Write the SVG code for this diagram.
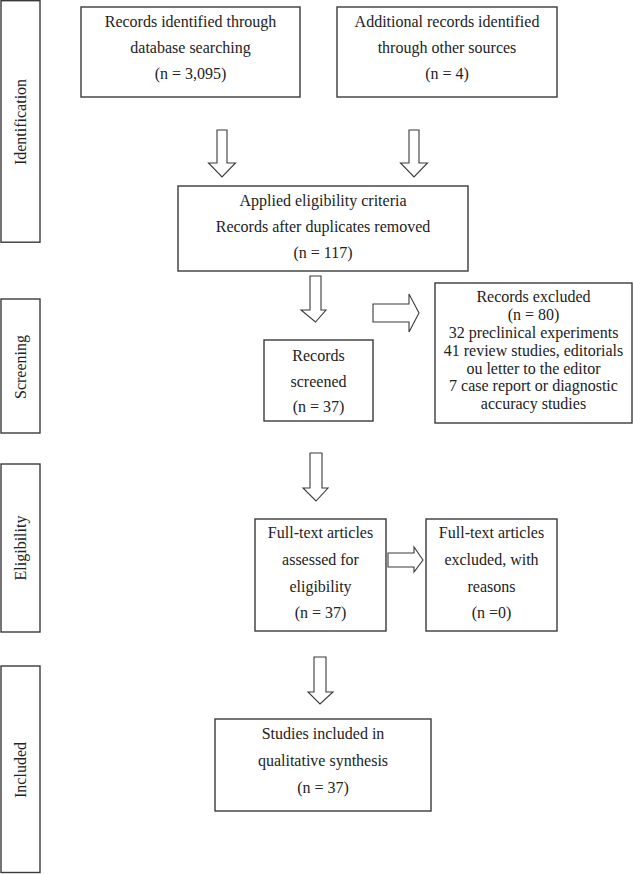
<svg xmlns="http://www.w3.org/2000/svg" width="633" height="874" viewBox="0 0 633 874">
<style>
.box{fill:#fff;stroke:#3a3a3a;stroke-width:1.4}
.arr{fill:#fff;stroke:#3a3a3a;stroke-width:1.1;stroke-linejoin:miter}
text{font-family:"Liberation Serif","Times New Roman",serif;font-size:16px;fill:#222;text-anchor:middle}
.sm{font-size:16px}
</style>
<rect width="633" height="874" fill="#fff"/>
<g id="stage-identification"><rect class="box" x="1" y="0.7" width="39" height="241.5"/><text transform="translate(26,122) rotate(-90)">Identification</text></g>
<g id="stage-screening"><rect class="box" x="1" y="299" width="39" height="134"/><text transform="translate(26,367) rotate(-90)">Screening</text></g>
<g id="stage-eligibility"><rect class="box" x="1" y="464" width="39" height="168"/><text transform="translate(26,548) rotate(-90)">Eligibility</text></g>
<g id="stage-included"><rect class="box" x="1" y="666" width="39" height="206.5"/><text transform="translate(26,770) rotate(-90)">Included</text></g>
<g id="n-database"><rect class="box" x="81" y="7" width="219" height="90"/><text x="190.5" y="27">Records identified through</text><text x="190.5" y="53">database searching</text><text x="190.5" y="79">(n = 3,095)</text></g>
<g id="n-other"><rect class="box" x="337" y="7" width="220" height="90"/><text x="447" y="27">Additional records identified</text><text x="447" y="53">through other sources</text><text x="447" y="79">(n = 4)</text></g>
<g id="n-applied"><rect class="box" x="178" y="186" width="290" height="85"/><text x="323" y="206">Applied eligibility criteria</text><text x="323" y="232">Records after duplicates removed</text><text x="323" y="258">(n = 117)</text></g>
<g id="n-screened"><rect class="box" x="264" y="340" width="109" height="81"/><text x="318.5" y="361">Records</text><text x="318.5" y="387">screened</text><text x="318.5" y="412">(n = 37)</text></g>
<g id="n-excluded"><rect class="box" x="435" y="283" width="197" height="140"/><text class="sm" x="533.5" y="302">Records excluded</text><text class="sm" x="533.5" y="320">(n = 80)</text><text class="sm" x="533.5" y="338">32 preclinical experiments</text><text class="sm" x="533.5" y="356">41 review studies, editorials</text><text class="sm" x="533.5" y="374">ou letter to the editor</text><text class="sm" x="533.5" y="391">7 case report or diagnostic</text><text class="sm" x="533.5" y="409">accuracy studies</text></g>
<g id="n-fulltext"><rect class="box" x="255" y="519" width="131" height="112"/><text x="320.5" y="538">Full-text articles</text><text x="320.5" y="565">assessed for</text><text x="320.5" y="592">eligibility</text><text x="320.5" y="618">(n = 37)</text></g>
<g id="n-ftexcluded"><rect class="box" x="426" y="519" width="131" height="112"/><text x="491.5" y="538">Full-text articles</text><text x="491.5" y="565">excluded, with</text><text x="491.5" y="592">reasons</text><text x="491.5" y="618">(n =0)</text></g>
<g id="n-included"><rect class="box" x="215" y="719" width="216" height="92"/><text x="323" y="739">Studies included in</text><text x="323" y="766">qualitative synthesis</text><text x="323" y="793">(n = 37)</text></g>
<g id="connectors">
<polygon class="arr" points="217,130 227,130 227,163 235.5,163 222,177 208.5,163 217,163"/>
<polygon class="arr" points="409,130 419,130 419,163 427.5,163 414,177 400.5,163 409,163"/>
<polygon class="arr" points="310,276 321,276 321,310 326,310 315.5,322 301,310 310,310"/>
<polygon class="arr" points="373,304 409,304 409,294 419,313 409,332 409,322 373,322"/>
<polygon class="arr" points="310,453 322,453 322,488 328,488 316,501 303,488 310,488"/>
<polygon class="arr" points="388,553 414,553 414,547 423,560 414,572 414,567 388,567"/>
<polygon class="arr" points="314,657 326,657 326,692 333,692 320,704 308,692 314,692"/>
</g>
</svg>
